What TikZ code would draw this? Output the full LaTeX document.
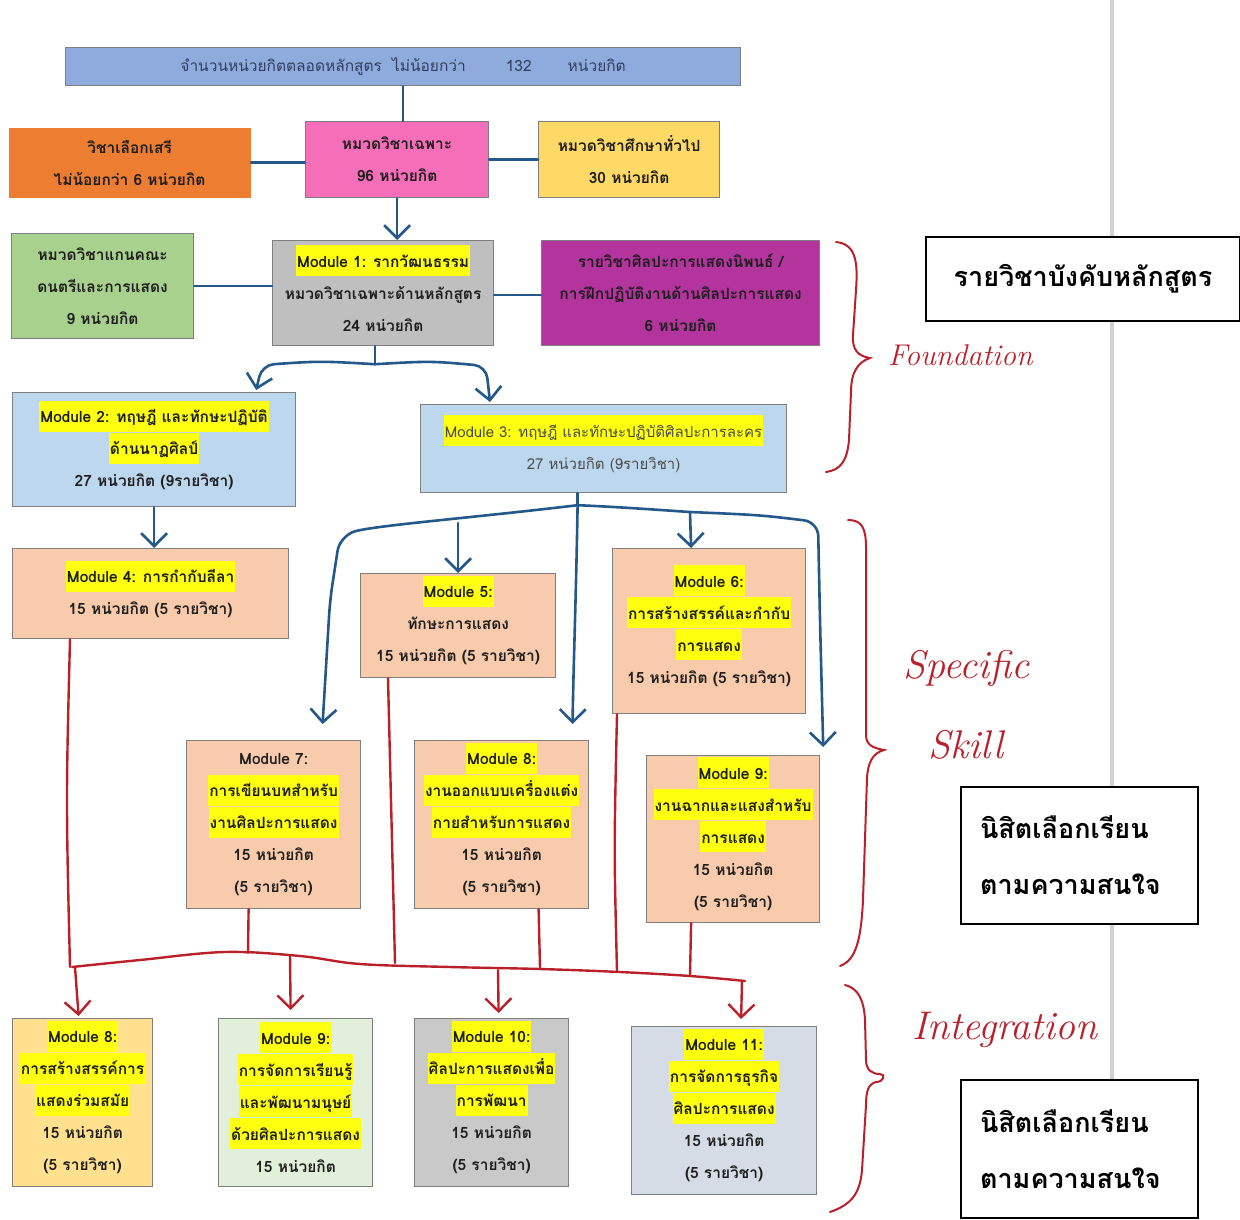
\documentclass[tikz,border=0pt]{standalone}
\usepackage{fontspec}
\usetikzlibrary{arrows.meta,calc}
\newfontfamily\thaifont[Script=Thai]{Loma}
\definecolor{topblue}{HTML}{8FAADC}
\definecolor{orangeb}{HTML}{ED7D31}
\definecolor{pinkb}{HTML}{F46FB8}
\definecolor{yellowb}{HTML}{FFD966}
\definecolor{greenb}{HTML}{A9D18E}
\definecolor{greyb}{HTML}{BFBFBF}
\definecolor{purpleb}{HTML}{B3349C}
\definecolor{lblue}{HTML}{BDD7EE}
\definecolor{peach}{HTML}{F8CBAD}
\definecolor{creamb}{HTML}{FFE08F}
\definecolor{mintb}{HTML}{E2EFDA}
\definecolor{greyc}{HTML}{C9C9C9}
\definecolor{steelb}{HTML}{D6DCE5}
\definecolor{hly}{HTML}{FFFF10}
\definecolor{pen}{HTML}{24578A}
\definecolor{redpen}{HTML}{B8202A}
\definecolor{boxline}{HTML}{7F7F7F}
\definecolor{txt}{HTML}{1E1E1E}
\definecolor{toptxt}{HTML}{2F3F5F}
\newcommand{\boxfont}{\thaifont\bfseries\fontsize{15.5}{32}\selectfont}
\newcommand{\hlt}[1]{\mbox{\smash{\setlength{\fboxsep}{0pt}\colorbox{hly}{\rule[-9pt]{0pt}{31pt}\hspace{1pt}#1\hspace{1pt}}}}\vphantom{#1}}
\tikzset{
  box/.style={draw=boxline, line width=1.2pt, inner sep=0pt, align=center, text=txt, font=\boxfont, anchor=north west},
  bl/.style={draw=pen, line width=2.6pt, line cap=round, line join=round},
  barrow/.style={bl, -{Straight Barb[length=13pt,width=26pt]}},
  rl/.style={draw=redpen, line width=2.4pt, line cap=round, line join=round},
  rarrow/.style={rl, -{Straight Barb[length=13pt,width=26pt]}},
  brace/.style={draw=redpen, line width=2pt, line cap=round},
  hand/.style={text=redpen, font=\itshape\fontsize{40}{46}\selectfont, inner sep=0pt},
  rbox/.style={draw=black, line width=2pt, fill=white, inner sep=0pt, anchor=north west, font=\thaifont\bfseries\fontsize{27}{56}\selectfont}
}
\begin{document}
\begin{tikzpicture}[x=1pt,y=-1pt]
\useasboundingbox (0,0) rectangle (1240,1219);
% grey page divider
\draw[draw=black!18, line width=4pt] (1112,0) -- (1112,1219);

% boxes
\node[box, fill=topblue, minimum width=675, minimum height=38, font=\thaifont\fontsize{15.5}{20}\selectfont, text=toptxt] (top) at (65,47)
  {จำนวนหน่วยกิตตลอดหลักสูตร\hspace{10pt}ไม่น้อยกว่า\hspace{40pt}132\hspace{36pt}หน่วยกิต};
\node[box, fill=orangeb, draw=none, minimum width=242, minimum height=70] (orange) at (8,127)
  {วิชาเลือกเสรี\\ไม่น้อยกว่า 6 หน่วยกิต};
\node[box, fill=pinkb, minimum width=183, minimum height=76] (pink) at (305,121)
  {หมวดวิชาเฉพาะ\\96 หน่วยกิต};
\node[box, fill=yellowb, minimum width=181, minimum height=76] (yellow) at (538,121)
  {หมวดวิชาศึกษาทั่วไป\\30 หน่วยกิต};
\node[box, fill=greenb, minimum width=182, minimum height=105] (green) at (11,233)
  {หมวดวิชาแกนคณะ\\ดนตรีและการแสดง\\9 หน่วยกิต};
\node[box, fill=greyb, minimum width=221, minimum height=105] (m1) at (272,240)
  {\hlt{Module 1: รากวัฒนธรรม}\\หมวดวิชาเฉพาะด้านหลักสูตร\\24 หน่วยกิต};
\node[box, fill=purpleb, minimum width=278, minimum height=105] (purple) at (541,240)
  {รายวิชาศิลปะการแสดงนิพนธ์ /\\การฝึกปฏิบัติงานด้านศิลปะการแสดง\\6 หน่วยกิต};
\node[box, fill=lblue, minimum width=283, minimum height=114] (m2) at (12,392)
  {\hlt{Module 2: ทฤษฎี และทักษะปฏิบัติ}\\\hlt{ด้านนาฏศิลป์}\\27 หน่วยกิต (9รายวิชา)};
\node[box, fill=lblue, minimum width=366, minimum height=88, font=\thaifont\fontsize{15}{32}\selectfont, text=black!70] (m3) at (420,404)
  {\hlt{Module 3: ทฤษฎี และทักษะปฏิบัติศิลปะการละคร}\\27 หน่วยกิต (9รายวิชา)};
\node[box, fill=peach, minimum width=276, minimum height=90] (m4) at (12,548)
  {\hlt{Module 4: การกำกับลีลา}\\15 หน่วยกิต (5 รายวิชา)};
\node[box, fill=peach, minimum width=195, minimum height=104] (m5) at (360,573)
  {\hlt{Module 5:}\\ทักษะการแสดง\\15 หน่วยกิต (5 รายวิชา)};
\node[box, fill=peach, minimum width=193, minimum height=165] (m6) at (612,548)
  {\hlt{Module 6:}\\\hlt{การสร้างสรรค์และกำกับ}\\\hlt{การแสดง}\\15 หน่วยกิต (5 รายวิชา)};
\node[box, fill=peach, minimum width=174, minimum height=168] (m7) at (186,740)
  {Module 7:\\\hlt{การเขียนบทสำหรับ}\\\hlt{งานศิลปะการแสดง}\\15 หน่วยกิต\\(5 รายวิชา)};
\node[box, fill=peach, minimum width=174, minimum height=168] (m8) at (414,740)
  {\hlt{Module 8:}\\\hlt{งานออกแบบเครื่องแต่ง}\\\hlt{กายสำหรับการแสดง}\\15 หน่วยกิต\\(5 รายวิชา)};
\node[box, fill=peach, minimum width=173, minimum height=167] (m9) at (646,755)
  {\hlt{Module 9:}\\\hlt{งานฉากและแสงสำหรับ}\\\hlt{การแสดง}\\15 หน่วยกิต\\(5 รายวิชา)};
\node[box, fill=creamb, minimum width=140, minimum height=168] (m8b) at (12,1018)
  {\hlt{Module 8:}\\\hlt{การสร้างสรรค์การ}\\\hlt{แสดงร่วมสมัย}\\15 หน่วยกิต\\(5 รายวิชา)};
\node[box, fill=mintb, minimum width=154, minimum height=168] (m9b) at (218,1018)
  {\hlt{Module 9:}\\\hlt{การจัดการเรียนรู้}\\\hlt{และพัฒนามนุษย์}\\\hlt{ด้วยศิลปะการแสดง}\\15 หน่วยกิต};
\node[box, fill=greyc, minimum width=154, minimum height=168] (m10) at (414,1018)
  {\hlt{Module 10:}\\\hlt{ศิลปะการแสดงเพื่อ}\\\hlt{การพัฒนา}\\15 หน่วยกิต\\(5 รายวิชา)};
\node[box, fill=steelb, minimum width=185, minimum height=168] (m11) at (631,1026)
  {\hlt{Module 11:}\\\hlt{การจัดการธุรกิจ}\\\hlt{ศิลปะการแสดง}\\15 หน่วยกิต\\(5 รายวิชา)};

% right-hand boxes
\node[rbox, minimum width=314, minimum height=84, align=center] (req) at (925,236) {รายวิชาบังคับหลักสูตร};
\node[rbox, minimum width=237, minimum height=137, align=left, text width=199, inner xsep=18pt] (elec1) at (960,786) {นิสิตเลือกเรียน\\ตามความสนใจ};
\node[rbox, minimum width=237, minimum height=138, align=left, text width=199, inner xsep=18pt] (elec2) at (960,1079) {นิสิตเลือกเรียน\\ตามความสนใจ};

% blue connectors, top part
\draw[bl] (top.south) -- (top.south |- pink.north);
\draw[bl] (orange.east) -- (orange.east -| pink.west);
\draw[bl] (pink.east) -- (yellow.west);
\draw[barrow] (pink.south) -- (pink.south |- m1.north);
\draw[bl] (green.east) -- (green.east -| m1.west);
\draw[bl] ($(m1.east)+(0,2)$) -- ($(m1.east -| purple.west)+(0,2)$);
\coordinate (j1) at ($(m1.south)+(-8,18)$);
\draw[bl] ($(m1.south)+(-8,0)$) -- (j1);
\draw[barrow, rounded corners=12pt] (j1) .. controls (320,361) .. (262,365) -- ($(m2.north east)+(-40,-2)$);
\draw[barrow, rounded corners=12pt] (j1) .. controls (430,361) .. (486,366) -- ($(m3.north west)+(70,-2)$);
\draw[barrow] (m2.south) -- (m2.south |- m4.north);

% blue connectors from module 3
\coordinate (j3) at ($(m3.south)+(-26,12)$);
\draw[bl] ($(m3.south)+(-26,0)$) -- (j3);
\draw[barrow, rounded corners=16pt] (j3) .. controls (470,518) and (380,525) .. (340,535) -- (330,600) -- ($(m7.north)+(49,-16)$);
\draw[barrow] (m5.north |- 0,523) -- (m5.north);
\draw[barrow] (j3) .. controls (576,600) and (573,680) .. ($(m8.north)+(71,-16)$);
\draw[barrow] (j3) .. controls (620,507) and (660,510) .. (690,512) -- ($(m6.north)+(-18,0)$);
\draw[barrow, rounded corners=14pt] (690,512) .. controls (760,515) .. (818,522) -- (820,620) -- ($(m9.north east)+(3,-8)$);

% red connectors
\draw[rl] plot[smooth, tension=0.6] coordinates {(72,967) (140,960) (225,952) (300,956) (360,964) (450,967) (540,969) (620,972) (690,976) (745,981)};
\draw[rl] ($(m4.south west)+(58,0)$) .. controls (66,800) .. (70,967);
\draw[rl] ($(m7.south)+(-25,0)$) -- (248,953);
\draw[rl] ($(m5.south west)+(28,0)$) .. controls (392,820) .. (395,963);
\draw[rl] ($(m8.south)+(37,0)$) -- (540,968);
\draw[rl] ($(m6.south west)+(5,0)$) .. controls (614,850) .. (617,971);
\draw[rl] ($(m9.south)+(-42,0)$) -- (690,976);
\draw[rarrow] (75,967) -- ($(m8b.north)+(-4,-2)$);
\draw[rarrow] (290,955) -- ($(m9b.north)+(-5,-8)$);
\draw[rarrow] (498,970) -- ($(m10.north)+(7,-5)$);
\draw[rarrow] (742,981) -- ($(m11.north)+(17,-7)$);

% braces and hand labels
\draw[brace] (836,242) .. controls (856,244) and (858,262) .. (856,290) -- (853,335)
  .. controls (852,350) and (858,356) .. (870,358)
  .. controls (858,362) and (851,372) .. (851,392) -- (849,440)
  .. controls (847,462) and (840,470) .. (826,472);
\node[hand, anchor=west, font=\itshape\fontsize{30}{40}\selectfont] (lfound) at (888,355) {Foundation};
\draw[brace] (848,520) .. controls (862,520) and (866,528) .. (866,548) -- (866,735)
  .. controls (866,745) and (873,748) .. (884,750)
  .. controls (873,753) and (868,762) .. (867,778) -- (863,900)
  .. controls (861,940) and (856,960) .. (840,966);
\node[hand, anchor=west] (lspec) at (903,668) {Specific};
\node[hand, anchor=west] (lskill) at (928,745) {Skill};
\draw[brace] (845,985) .. controls (858,988) and (864,1000) .. (865,1020) -- (866,1060)
  .. controls (866,1070) and (872,1074) .. (880,1074)
  .. controls (886,1074) and (884,1082) .. (876,1082)
  .. controls (868,1084) and (866,1092) .. (866,1105) -- (862,1170)
  .. controls (860,1195) and (850,1205) .. (830,1212);
\node[hand, anchor=west] (linteg) at (912,1030) {Integration};
\end{tikzpicture}
\end{document}
